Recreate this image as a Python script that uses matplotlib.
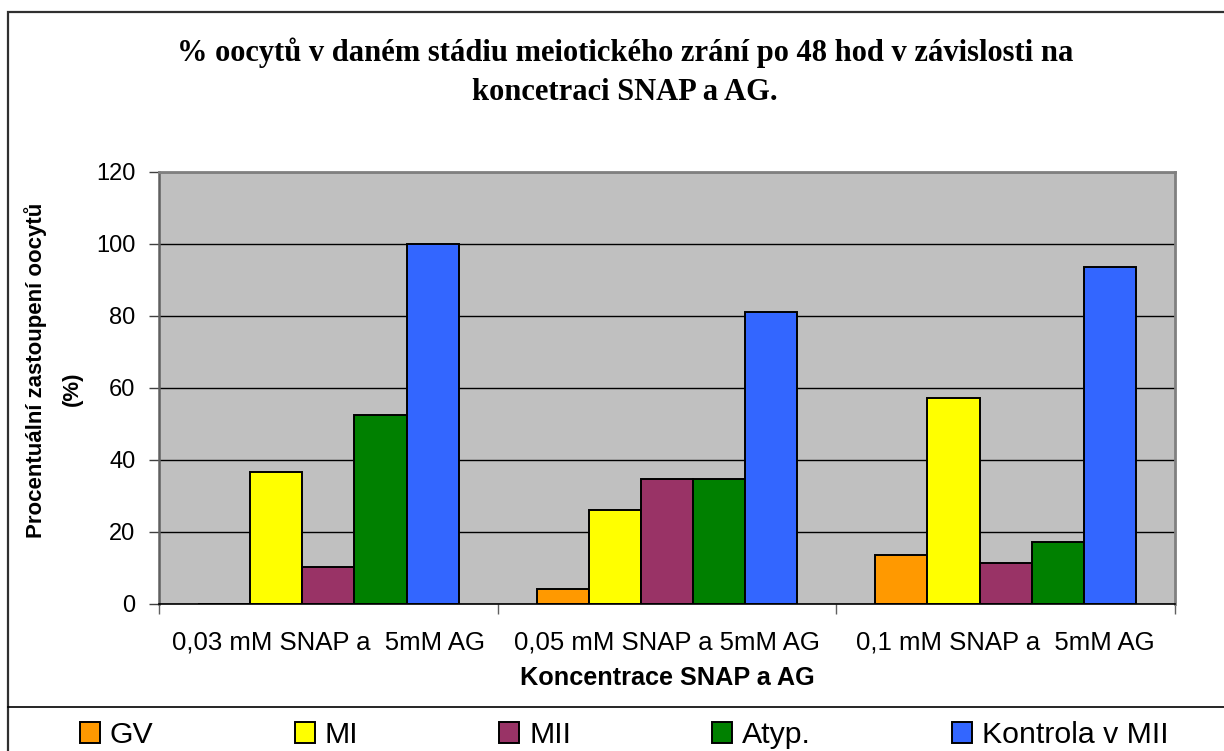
import matplotlib.pyplot as plt
import numpy as np
from matplotlib.patches import Rectangle
from matplotlib.lines import Line2D

plt.rcParams['font.family'] = ['Liberation Sans', 'DejaVu Sans']

CATEGORIES = ['0,03 mM SNAP a  5mM AG', '0,05 mM SNAP a 5mM AG', '0,1 mM SNAP a  5mM AG']
SERIES = ['GV', 'MI', 'MII', 'Atyp.', 'Kontrola v MII']
GV = [0.0, 4.2, 13.6]
MI = [36.8, 26.1, 57.3]
MII = [10.4, 34.6, 11.3]
ATYP = [52.6, 34.6, 17.3]
KONTROLA = [100.0, 81.0, 93.7]
Y_TICKS = [0, 20, 40, 60, 80, 100, 120]

COLOURS = ['#FF9900', '#FFFF00', '#993366', '#008000', '#3366FF']
W, H = 1224, 751
BAR_WIDTH = 0.154


def px_x(x):
    return x / W


def px_y(y):
    return 1 - y / H


def main():
    fig = plt.figure(figsize=(W / 100, H / 100), dpi=100)
    ax = fig.add_axes([px_x(159), px_y(604), (1175 - 159) / W, (604 - 172) / H])
    ax.set_facecolor('#C0C0C0')

    x = np.arange(len(CATEGORIES))
    values = [GV, MI, MII, ATYP, KONTROLA]
    for i, (name, vals, colour) in enumerate(zip(SERIES, values, COLOURS)):
        ax.bar(x + (i - 2) * BAR_WIDTH, vals, BAR_WIDTH, color=colour,
               edgecolor='black', linewidth=1.4, label=name, zorder=3)

    ax.set_xlim(-0.5, len(CATEGORIES) - 0.5)
    ax.set_ylim(0, 120)
    ax.set_yticks(Y_TICKS)
    ax.yaxis.grid(True, color='black', linewidth=1.0, zorder=1)
    ax.set_axisbelow(True)
    ax.tick_params(axis='y', direction='out', length=7, width=1, color='#404040',
                   labelsize=17, pad=10)

    ax.set_xticks(np.arange(len(CATEGORIES) + 1) - 0.5)
    ax.set_xticklabels([])
    ax.set_xticks(x, minor=True)
    ax.set_xticklabels(CATEGORIES, minor=True, fontsize=18.5)
    ax.tick_params(axis='x', which='major', direction='out', length=7, width=1, color='#606060')
    ax.tick_params(axis='x', which='minor', length=0, pad=19)

    for side in ['top', 'right']:
        ax.spines[side].set_color('#808080')
        ax.spines[side].set_linewidth(2)
    ax.spines['left'].set_color('#606060')
    ax.spines['left'].set_linewidth(1.8)
    ax.spines['bottom'].set_color('black')
    ax.spines['bottom'].set_linewidth(1.2)
    ax.spines['bottom'].set_zorder(4)

    fig.text(px_x(625), px_y(72),
             '% oocytů v daném stádiu meiotického zrání po 48 hod v závislosti na\nkoncetraci SNAP a AG.',
             ha='center', va='center', fontsize=22, fontweight='bold',
             family='Liberation Serif', linespacing=1.45)

    fig.text(px_x(667), px_y(678), 'Koncentrace SNAP a AG', ha='center', va='center',
             fontsize=18.2, fontweight='bold')
    fig.text(px_x(36), px_y(370), 'Procentuální zastoupení oocytů', rotation=90,
             ha='center', va='center', fontsize=16, fontweight='bold')
    fig.text(px_x(72), px_y(389), '(%)', rotation=90,
             ha='center', va='center', fontsize=16, fontweight='bold')

    fig.legend(loc='center left', bbox_to_anchor=(px_x(80), px_y(735)), ncol=5,
               frameon=False, fontsize=21.8, handlelength=0.66, handleheight=0.66,
               handletextpad=0.33, columnspacing=4.66, borderpad=0, borderaxespad=0)

    # chart border and legend separator
    fig.add_artist(Rectangle((px_x(8), -0.05), 1.1, px_y(12) + 0.05, transform=fig.transFigure,
                             fill=False, edgecolor='#303030', linewidth=1.6))
    fig.add_artist(Line2D([px_x(8), 1], [px_y(707), px_y(707)], transform=fig.transFigure,
                          color='black', linewidth=1.2))

    fig.savefig('out.png', dpi=100)


if __name__ == '__main__':
    main()
